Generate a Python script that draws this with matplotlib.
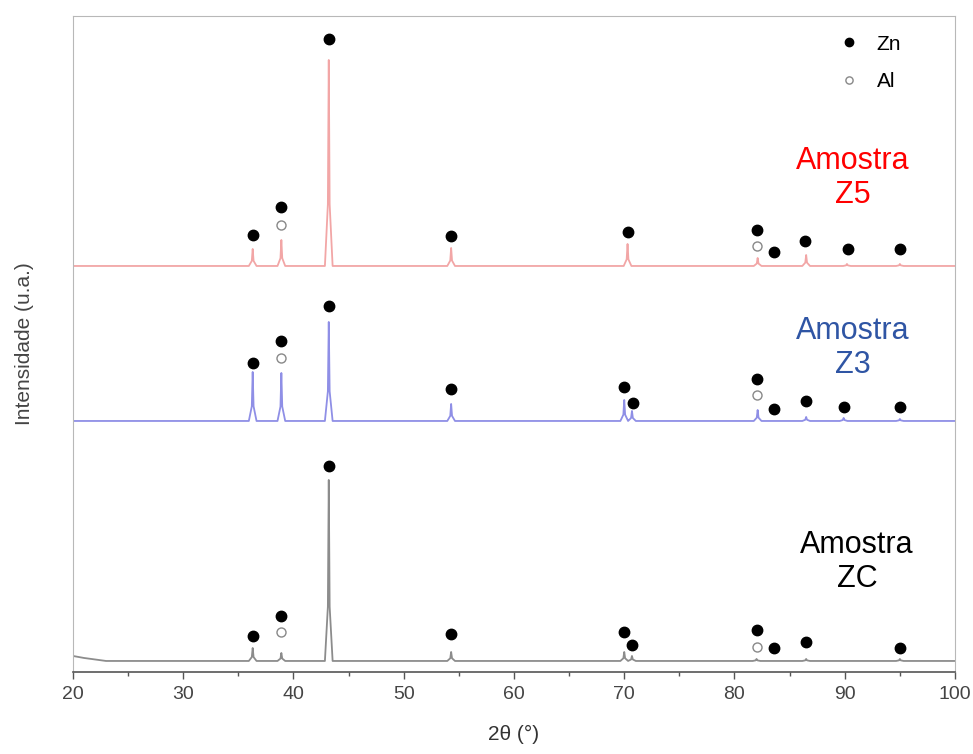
import numpy as np
import matplotlib.pyplot as plt

# posicoes e alturas dos picos (2theta, intensidade u.a.)
x_inicio, x_fim = 20, 100

# Amostra ZC
zc_base = 11
zc_pos = [36.3, 38.9, 43.2, 54.3, 70.0, 70.7, 82.0, 86.5, 95.0]
zc_alt = [13, 8, 181, 9, 9, 5, 2, 2, 2]

# Amostra Z3
z3_base = 251
z3_pos = [36.3, 38.9, 43.2, 54.3, 70.0, 70.7, 82.1, 86.5, 89.9, 95.0]
z3_alt = [49, 48, 99, 17, 21, 10, 11, 4, 3, 2]

# Amostra Z5
z5_base = 406
z5_pos = [36.3, 38.9, 43.2, 54.3, 70.3, 82.1, 86.5, 90.2, 95.0]
z5_alt = [17, 26, 206, 18, 22, 8, 11, 2, 2]

# marcadores de fase (Zn cheio, Al vazio)
zn_x = [36.3, 38.9, 43.2, 54.3, 70.0, 70.7, 82.0, 83.6, 86.5, 95.0,
        36.3, 38.9, 43.2, 54.3, 70.0, 70.8, 82.0, 83.6, 86.5, 89.9, 95.0,
        36.3, 38.9, 43.2, 54.3, 70.3, 82.0, 83.6, 86.4, 90.3, 95.0]
zn_y = [36, 56, 206, 38, 40, 27, 42, 24, 30, 24,
        309, 331, 366, 283, 285, 269, 293, 263, 271, 265, 265,
        437, 465, 633, 436, 440, 442, 420, 431, 423, 423]
al_x = [38.9, 82.0, 38.9, 82.0, 38.9, 82.0]
al_y = [40, 25, 314, 277, 447, 426]


def perfil(base, pos, alt, larg=0.35):
    # monta a linha ponto a ponto: base, subida, topo, descida
    xs = [x_inicio]
    ys = [base]
    for p, h in zip(pos, alt):
        xs += [p - larg, p - 0.08, p, p + 0.08, p + larg]
        ys += [base, base + 0.3 * h, base + h, base + 0.3 * h, base]
    xs.append(x_fim)
    ys.append(base)
    return xs, ys


fig = plt.figure(figsize=(9.73, 7.54), dpi=100)
ax = fig.add_axes([0.075, 0.1088, 0.9065, 0.87])

# ZC tem um pequeno fundo no inicio
xs, ys = perfil(zc_base, zc_pos, zc_alt)
xs = [20, 21, 23] + xs[1:]
ys = [zc_base + 5, zc_base + 3, zc_base] + ys[1:]
ax.plot(xs, ys, color='#8c8c8c', lw=1.3)

xs, ys = perfil(z3_base, z3_pos, z3_alt)
ax.plot(xs, ys, color='#8f8fe6', lw=1.3)

xs, ys = perfil(z5_base, z5_pos, z5_alt)
ax.plot(xs, ys, color='#f2a6a6', lw=1.3)

ax.plot(zn_x, zn_y, 'o', color='black', ms=7.5, ls='none', label='Zn')
ax.plot(al_x, al_y, 'o', mfc='white', mec='#888888', mew=1.0, ms=6.5,
        ls='none', label='Al')

ax.legend(loc='upper right', bbox_to_anchor=(0.96, 1.0), frameon=False,
          labelspacing=0.9, handletextpad=0.3, markerscale=0.8,
          prop={'family': 'Liberation Sans', 'size': 15})

txt = dict(fontsize=22, family='Liberation Sans', ha='center', va='center',
           linespacing=1.2)
ax.text(90.7, 494, 'Amostra\nZ5', color='#ff0000', **txt)
ax.text(90.7, 324, 'Amostra\nZ3', color='#2f55a4', **txt)
ax.text(91.1, 110, 'Amostra\nZC', color='black', **txt)

ax.set_xlim(x_inicio, x_fim)
ax.set_ylim(0, 656)
ax.set_xticks(np.arange(20, 101, 10))
ax.set_xticks(np.arange(25, 100, 10), minor=True)
ax.set_yticks([])
ax.tick_params(axis='x', which='major', length=5, width=1, color='#555555',
               labelsize=14, labelcolor='#444444', pad=5)
ax.tick_params(axis='x', which='minor', length=3, width=1, color='#555555')
for lab in ax.get_xticklabels():
    lab.set_family('Liberation Sans')
for s in ax.spines.values():
    s.set_color('#b8b8b8')
ax.spines['bottom'].set_color('#555555')
ax.spines['bottom'].set_linewidth(1.2)

ax.set_xlabel('2θ (°)', fontsize=15, color='#333333', family='Liberation Sans',
              labelpad=16)
ax.set_ylabel('Intensidade (u.a.)', fontsize=15, color='#444444',
              family='Liberation Sans', labelpad=28)

fig.savefig('out.png', dpi=100)
